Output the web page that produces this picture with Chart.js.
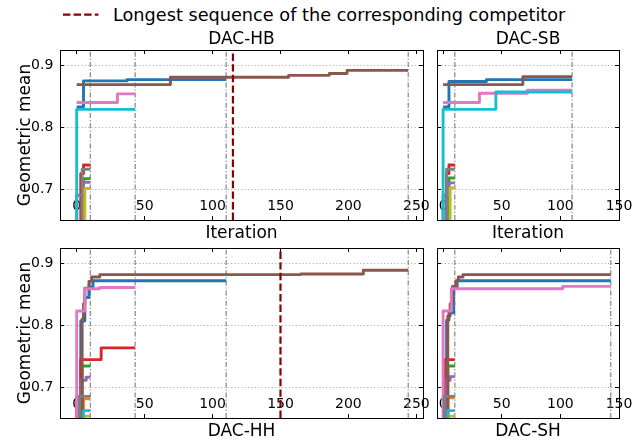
<!DOCTYPE html>
<html><head><meta charset="utf-8">
<script src="https://cdn.jsdelivr.net/npm/chart.js@4.4.1/dist/chart.umd.min.js"></script>
<style>
html,body{margin:0;padding:0;background:#fff;}
#fig{position:relative;width:633px;height:443px;overflow:hidden;background:#fff;font-family:'DejaVu Sans',sans-serif;}
canvas{position:absolute;}
#legend{position:absolute;left:63px;top:5.3px;height:20px;line-height:20px;font-size:17.7px;white-space:nowrap;color:#000;}
#legend svg{vertical-align:top;}
</style></head><body>
<div id="fig">
<div id="legend"><svg width="36" height="20"><line x1="0" y1="9.7" x2="35.4" y2="9.7" stroke="#8b0000" stroke-width="2.2" stroke-dasharray="7.4 3.2"/></svg><span style="margin-left:14px">Longest sequence of the corresponding competitor</span></div>
<canvas id="cHB" width="433" height="224" style="left:0px;top:22px"></canvas>
<canvas id="cSB" width="203" height="224" style="left:430px;top:22px"></canvas>
<canvas id="cHH" width="433" height="205" style="left:0px;top:238px"></canvas>
<canvas id="cSH" width="203" height="205" style="left:430px;top:238px"></canvas>
</div>
<script>
// ---------- axis data ----------
const xTicksLong = [0, 50, 100, 150, 200, 250];
const xLabelsLong = ['0', '50', '100', '150', '200', '250'];
const xTicksShort = [0, 50, 100, 150];
const xLabelsShort = ['0', '50', '100', '150'];
const yTicks = [0.7, 0.8, 0.9];
const yLabels = ['0.7', '0.8', '0.9'];
const yRange = [0.65, 0.925];
const xRangeLong = [-12.3, 254.9];
const xRangeShort = [-5.2, 150];
const legendLabel = 'Longest sequence of the corresponding competitor';

// ---------- DAC-HB (iteration, best geometric mean) ----------
const hbBlue   = [[0,0.833],[5,0.875],[37,0.877],[110,0.877]];
const hbGreen  = [[0,0.60],[5,0.717],[10,0.717]];
const hbRed    = [[0,0.60],[3,0.725],[5,0.739],[10,0.739]];
const hbPurple = [[0,0.60],[0,0.690],[5,0.711],[10,0.711]];
const hbBrown  = [[0,0.869],[69,0.881],[156,0.884],[186,0.887],[199,0.892],[244,0.892]];
const hbPink   = [[0,0.840],[30,0.854],[43,0.854]];
const hbGray   = [[0,0.60],[4,0.732],[10,0.732]];
const hbOlive  = [[0,0.60],[6,0.701],[10,0.701]];
const hbCyan   = [[0,0.60],[0,0.829],[43,0.829]];
const hbEnds   = [10, 43, 110, 244];
const hbLongest = 115;

// ---------- DAC-SB ----------
const sbBlue   = [[0,0.833],[5,0.874],[37,0.877],[110,0.877]];
const sbGreen  = [[0,0.60],[5,0.718],[10,0.718]];
const sbRed    = [[0,0.60],[3,0.725],[5,0.739],[10,0.739]];
const sbPurple = [[0,0.60],[0,0.690],[5,0.710],[10,0.710]];
const sbBrown  = [[0,0.869],[68,0.882],[110,0.882]];
const sbPink   = [[0,0.840],[31,0.855],[72,0.860],[110,0.860]];
const sbGray   = [[0,0.60],[3,0.732],[10,0.732]];
const sbOlive  = [[0,0.60],[6,0.702],[10,0.702]];
const sbCyan   = [[0,0.60],[0,0.829],[45,0.857],[110,0.857]];
const sbEnds   = [10, 110];

// ---------- DAC-HH ----------
const hhBlue   = [[0,0.60],[3,0.807],[6,0.845],[9,0.862],[12,0.872],[110,0.872]];
const hhOrange = [[0,0.60],[5,0.681],[10,0.681]];
const hhGreen  = [[0,0.60],[4,0.734],[10,0.734]];
const hhRed    = [[0,0.60],[0,0.685],[3,0.7445],[18,0.7635],[43,0.7635]];
const hhPurple = [[0,0.60],[3,0.711],[7,0.716],[10,0.716]];
const hhBrown  = [[0,0.60],[4,0.81],[5,0.835],[6,0.86],[9,0.871],[11,0.878],[17,0.882],[165,0.883],[211,0.889],[244,0.889]];
const hhPink   = [[0,0.60],[0,0.823],[6,0.859],[17,0.861],[43,0.861]];
const hhGray   = [[0,0.60],[2,0.685],[10,0.685]];
const hhOlive  = [[0,0.60],[6,0.653],[10,0.653]];
const hhCyan   = [[0,0.60],[5,0.662],[10,0.662]];
const hhEnds   = [10, 43, 110, 244];
const hhLongest = 150;

// ---------- DAC-SH ----------
const shBlue   = [[0,0.60],[3,0.808],[5,0.82],[9,0.86],[12,0.872],[143,0.872]];
const shOrange = [[0,0.60],[4,0.6825],[10,0.6825]];
const shGreen  = [[0,0.60],[4,0.734],[10,0.734]];
const shRed    = [[0,0.60],[1,0.7445],[10,0.7445]];
const shPurple = [[0,0.60],[3,0.711],[6,0.717],[10,0.717]];
const shBrown  = [[0,0.60],[4,0.815],[6,0.835],[8,0.863],[11,0.872],[13,0.878],[17,0.882],[143,0.882]];
const shPink   = [[0,0.60],[0,0.823],[7,0.859],[102,0.863],[143,0.863]];
const shGray   = [[0,0.60],[1,0.685],[10,0.685]];
const shOlive  = [[0,0.60],[5,0.653],[10,0.653]];
const shCyan   = [[0,0.60],[4,0.662],[10,0.662]];
const shEnds   = [10, 143];

// ---------- styling ----------
const COLORS = {blue:'#1f77b4', orange:'#ff7f0e', green:'#2ca02c', red:'#d62728', purple:'#9467bd',
  brown:'#8c564b', pink:'#e377c2', gray:'#7f7f7f', olive:'#bcbd22', cyan:'#17becf'};
const ORDER = ['blue','orange','green','red','purple','brown','pink','gray','olive','cyan'];

Chart.defaults.font.family = "'DejaVu Sans', sans-serif";

function buildDatasets(series, ends, longest) {
  const ds = [];
  ORDER.forEach((name, i) => {
    const pts = series[name];
    if (!pts) return;
    ds.push({
      data: pts.map(p => ({x: p[0], y: p[1]})),
      borderColor: COLORS[name], backgroundColor: COLORS[name],
      borderWidth: 2.9, stepped: 'before', pointRadius: 0, fill: false,
      clip: 0, order: 100 - i, borderJoinStyle: 'round', borderCapStyle: 'butt'
    });
  });
  ends.forEach(e => ds.push({
    data: [{x: e, y: yRange[0]}, {x: e, y: yRange[1]}],
    borderColor: '#7a7a7a', borderWidth: 1.1, borderDash: [5, 2, 1.2, 2],
    pointRadius: 0, fill: false, clip: 0, order: 200
  }));
  if (longest !== null) ds.push({
    label: legendLabel,
    data: [{x: longest, y: yRange[0]}, {x: longest, y: yRange[1]}],
    borderColor: '#8b0000', borderWidth: 2.2, borderDash: [7.4, 3.2],
    pointRadius: 0, fill: false, clip: 0, order: 0
  });
  return ds;
}

function zeroPad(s) { s.paddingTop = 0; s.paddingBottom = 0; s.paddingLeft = 0; s.paddingRight = 0; }

function makePanel(p) {
  const tickFont = {size: 14};
  const titleFont = {size: 17};
  const tickGrid = {display: true, drawOnChartArea: false, drawTicks: true, tickLength: -4,
    tickWidth: 1, tickColor: '#000', tickBorderDash: []};
  const border = {display: true, color: '#000', width: 1};
  const setX = s => { s.ticks = p.xTicks.map(v => ({value: v})); };
  const setY = s => { s.ticks = yTicks.map(v => ({value: v})); };
  new Chart(document.getElementById(p.id), {
    type: 'line',
    data: {datasets: buildDatasets(p.series, p.ends, p.longest)},
    options: {
      responsive: false, animation: false, devicePixelRatio: 1,
      layout: {padding: 0, autoPadding: false},
      plugins: {legend: {display: false}, tooltip: {enabled: false}, title: {display: false}},
      events: [],
      scales: {
        x: {
          type: 'linear', position: 'bottom', min: p.xRange[0], max: p.xRange[1],
          afterBuildTicks: setX, afterFit: s => { s.height = p.bottomH; zeroPad(s); },
          ticks: {display: true, mirror: true, font: tickFont, color: '#000', padding: 5, maxRotation: 0, minRotation: 0,
            autoSkip: false, callback: (v, i) => p.xLabels[i]},
          grid: tickGrid, border: border,
          title: {display: true, text: p.bottomTitle, font: titleFont, color: '#000', padding: {top: 0, bottom: p.bottomPad}}
        },
        x2: {
          type: 'linear', axis: 'x', position: 'top', min: p.xRange[0], max: p.xRange[1],
          afterBuildTicks: setX, afterFit: s => { s.height = p.topH; zeroPad(s); },
          ticks: {display: false},
          grid: tickGrid, border: border,
          title: {display: !!p.topTitle, text: p.topTitle || '', font: titleFont, color: '#000', padding: {top: p.topPad, bottom: 0}}
        },
        y: {
          type: 'linear', position: 'left', min: yRange[0], max: yRange[1],
          afterBuildTicks: setY, afterFit: s => { s.width = p.leftW; zeroPad(s); },
          ticks: {display: p.showY, font: tickFont, color: '#000', padding: 10.7, callback: (v, i) => yLabels[i]},
          grid: {display: true, drawOnChartArea: true, color: '#b0b0b0', lineWidth: 1, borderDash: [1.2, 2.2],
            drawTicks: true, tickLength: -4, tickWidth: 1, tickColor: '#000', tickBorderDash: []},
          border: {display: true, color: '#000', width: 1, dash: [1.2, 2.2]},
          title: {display: p.showY, text: 'Geometric mean', font: titleFont, color: '#000', padding: {top: 15.3, bottom: 0}}
        },
        y2: {
          type: 'linear', axis: 'y', position: 'right', min: yRange[0], max: yRange[1],
          afterBuildTicks: setY, afterFit: s => { s.width = p.rightW; zeroPad(s); },
          ticks: {display: false},
          grid: tickGrid, border: border
        }
      }
    }
  });
}

makePanel({id: 'cHB', xRange: xRangeLong, xTicks: xTicksLong, xLabels: xLabelsLong,
  series: {blue: hbBlue, green: hbGreen, red: hbRed, purple: hbPurple, brown: hbBrown, pink: hbPink, gray: hbGray, olive: hbOlive, cyan: hbCyan},
  ends: hbEnds, longest: hbLongest, topTitle: 'DAC-HB', bottomTitle: 'Iteration', showY: true,
  leftW: 60, rightW: 10, topH: 28, bottomH: 26, topPad: 7.5, bottomPad: 2.3});
makePanel({id: 'cSB', xRange: xRangeShort, xTicks: xTicksShort, xLabels: xLabelsShort,
  series: {blue: sbBlue, green: sbGreen, red: sbRed, purple: sbPurple, brown: sbBrown, pink: sbPink, gray: sbGray, olive: sbOlive, cyan: sbCyan},
  ends: sbEnds, longest: null, topTitle: 'DAC-SB', bottomTitle: 'Iteration', showY: false,
  leftW: 7, rightW: 14, topH: 28, bottomH: 26, topPad: 7.5, bottomPad: 2.3});
makePanel({id: 'cHH', xRange: xRangeLong, xTicks: xTicksLong, xLabels: xLabelsLong,
  series: {blue: hhBlue, orange: hhOrange, green: hhGreen, red: hhRed, purple: hhPurple, brown: hhBrown, pink: hhPink, gray: hhGray, olive: hhOlive, cyan: hhCyan},
  ends: hhEnds, longest: hhLongest, topTitle: null, bottomTitle: 'DAC-HH', showY: true,
  leftW: 60, rightW: 10, topH: 10, bottomH: 25, topPad: 0, bottomPad: 0.8});
makePanel({id: 'cSH', xRange: xRangeShort, xTicks: xTicksShort, xLabels: xLabelsShort,
  series: {blue: shBlue, orange: shOrange, green: shGreen, red: shRed, purple: shPurple, brown: shBrown, pink: shPink, gray: shGray, olive: shOlive, cyan: shCyan},
  ends: shEnds, longest: null, topTitle: null, bottomTitle: 'DAC-SH', showY: false,
  leftW: 7, rightW: 14, topH: 10, bottomH: 25, topPad: 0, bottomPad: 0.8});
</script>
</body></html>
